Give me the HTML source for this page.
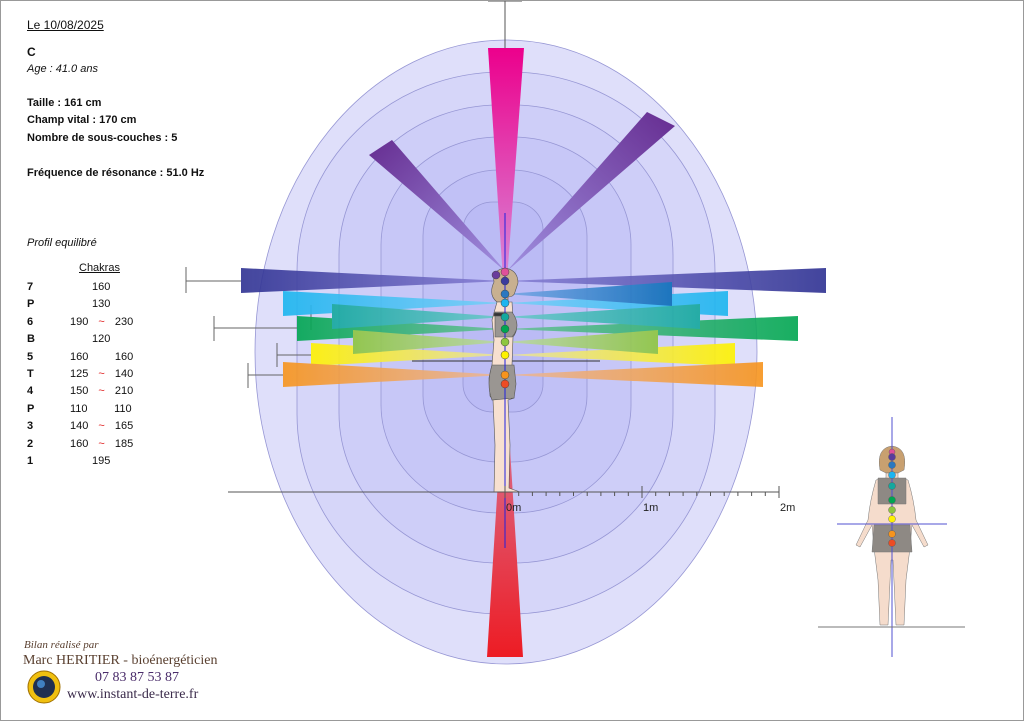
<!DOCTYPE html>
<html><head><meta charset="utf-8"><style>
html,body{margin:0;padding:0;background:#fff}
#p{position:relative;width:1022px;height:719px;border:1px solid #999;overflow:hidden;font-family:"Liberation Sans",sans-serif;color:#111}
.t{position:absolute;font-size:11px;white-space:nowrap}
.b{font-weight:bold}
.i{font-style:italic}
.s{font-family:"Liberation Serif",serif;position:absolute;white-space:nowrap}
</style></head><body><div id="p">
<svg width="1024" height="721" style="position:absolute;left:-1px;top:-1px">
<defs>
<linearGradient id="db" x1="0" x2="1"><stop offset="0" stop-color="#2e3192"/><stop offset="1" stop-color="#8a82d6"/></linearGradient>
<linearGradient id="dbr" x1="1" x2="0"><stop offset="0" stop-color="#2e3192"/><stop offset="1" stop-color="#8a82d6"/></linearGradient>
<linearGradient id="lb" x1="0" x2="1"><stop offset="0" stop-color="#1cb5f0"/><stop offset="1" stop-color="#7ccff8"/></linearGradient>
<linearGradient id="lbr" x1="1" x2="0"><stop offset="0" stop-color="#1cb5f0"/><stop offset="1" stop-color="#7ccff8"/></linearGradient>
<linearGradient id="mb" x1="1" x2="0"><stop offset="0" stop-color="#0a6cb8"/><stop offset="1" stop-color="#7aa8e6"/></linearGradient>
<linearGradient id="te" x1="0" x2="1"><stop offset="0" stop-color="#13a89e"/><stop offset="1" stop-color="#6fc8cc"/></linearGradient>
<linearGradient id="ter" x1="1" x2="0"><stop offset="0" stop-color="#13a89e"/><stop offset="1" stop-color="#6fc8cc"/></linearGradient>
<linearGradient id="gr" x1="0" x2="1"><stop offset="0" stop-color="#00a651"/><stop offset="1" stop-color="#6cc09a"/></linearGradient>
<linearGradient id="grr" x1="1" x2="0"><stop offset="0" stop-color="#00a651"/><stop offset="1" stop-color="#6cc09a"/></linearGradient>
<linearGradient id="lg" x1="0" x2="1"><stop offset="0" stop-color="#8dc63f"/><stop offset="1" stop-color="#bcd8a8"/></linearGradient>
<linearGradient id="lgr" x1="1" x2="0"><stop offset="0" stop-color="#8dc63f"/><stop offset="1" stop-color="#bcd8a8"/></linearGradient>
<linearGradient id="ye" x1="0" x2="1"><stop offset="0" stop-color="#fff200"/><stop offset="1" stop-color="#e6e0a8"/></linearGradient>
<linearGradient id="yer" x1="1" x2="0"><stop offset="0" stop-color="#fff200"/><stop offset="1" stop-color="#e6e0a8"/></linearGradient>
<linearGradient id="or" x1="0" x2="1"><stop offset="0" stop-color="#f7941d"/><stop offset="1" stop-color="#e8b8a0"/></linearGradient>
<linearGradient id="orr" x1="1" x2="0"><stop offset="0" stop-color="#f7941d"/><stop offset="1" stop-color="#e8b8a0"/></linearGradient>
<linearGradient id="pk" x1="0" y1="0" x2="0" y2="1"><stop offset="0" stop-color="#ec008c"/><stop offset="1" stop-color="#d88ad8"/></linearGradient>
<linearGradient id="rd" x1="0" y1="1" x2="0" y2="0"><stop offset="0" stop-color="#ed1c24"/><stop offset="1" stop-color="#d87898"/></linearGradient>
<linearGradient id="pu" x1="0" y1="0" x2="1" y2="1"><stop offset="0" stop-color="#662d91"/><stop offset="1" stop-color="#a090e0"/></linearGradient>
<linearGradient id="pur" x1="1" y1="0" x2="0" y2="1"><stop offset="0" stop-color="#662d91"/><stop offset="1" stop-color="#a090e0"/></linearGradient>
</defs>
<g stroke="#9696d4" stroke-width="0.8" fill="#8080f0" fill-opacity="0.09">
<ellipse cx="506" cy="352" rx="251" ry="312" fill="#dfdffa" fill-opacity="1"/>
<rect x="297" y="72" width="418" height="542" rx="205" ry="200"/>
<rect x="339" y="105" width="334" height="458" rx="160" ry="150"/>
<rect x="381" y="137" width="250" height="376" rx="118" ry="108"/>
<rect x="423" y="170" width="164" height="292" rx="76" ry="66"/>
<rect x="463" y="202" width="80" height="210" rx="30" ry="28"/>
</g>
<line x1="505" y1="0" x2="505" y2="48" stroke="#555"/><line x1="488" y1="1" x2="522" y2="1" stroke="#555"/>
<polygon points="488,48 524,48 507,280 503,280" fill="url(#pk)"/>
<polygon points="487,657 523,657 507,400 503,400" fill="url(#rd)"/>
<polygon points="369,155 392,140 506,272" fill="url(#pu)"/>
<polygon points="647,112 675,126 506,272" fill="url(#pur)"/>
<g stroke="#666" stroke-width="1">
<line x1="186" y1="281" x2="241" y2="281"/><line x1="186" y1="267" x2="186" y2="293"/>
<line x1="214" y1="328" x2="297" y2="328"/><line x1="214" y1="316" x2="214" y2="341"/>
<line x1="311" y1="305" x2="311" y2="330"/>
<line x1="277" y1="355" x2="311" y2="355"/><line x1="277" y1="343" x2="277" y2="367"/>
<line x1="248" y1="375" x2="283" y2="375"/><line x1="248" y1="363" x2="248" y2="388"/>
</g>
<g opacity="0.9">
<polygon points="241,268 241,293 505,281" fill="url(#db)"/>
<polygon points="826,268 826,293 505,281" fill="url(#dbr)"/>
<polygon points="283,291 283,316 505,303" fill="url(#lb)"/>
<polygon points="728,291 728,316 505,303" fill="url(#lbr)"/>
<polygon points="672,282 672,306 505,294" fill="url(#mb)"/>
<polygon points="297,316 297,341 505,329" fill="url(#gr)"/>
<polygon points="798,316 798,341 505,329" fill="url(#grr)"/>
<polygon points="332,304 332,329 505,317" fill="url(#te)"/>
<polygon points="700,304 700,329 505,317" fill="url(#ter)"/>
<polygon points="311,343 311,366 505,355" fill="url(#ye)"/>
<polygon points="735,343 735,366 505,355" fill="url(#yer)"/>
<polygon points="353,330 353,354 505,342" fill="url(#lg)"/>
<polygon points="658,330 658,354 505,342" fill="url(#lgr)"/>
<polygon points="283,362 283,387 505,375" fill="url(#or)"/>
<polygon points="763,362 763,387 505,375" fill="url(#orr)"/>
</g>
<line x1="412" y1="361" x2="600" y2="361" stroke="#333"/>
<g stroke="#555" stroke-width="0.6">
<path d="M494,282 Q492,270 505,268 Q518,270 518,283 L515,292 Q514,297 508,297 L508,302 L497,302 Q488,295 494,282Z" fill="#c8b090"/>
<path d="M497,302 L512,302 L513,320 Q520,328 513,337 L512,365 L514,370 L514,398 L508,400 L510,445 L509,488 L520,492 L494,492 L495,445 L493,400 L490,396 L489,378 L492,365 L494,340 L492,320Z" fill="#f7e0d0"/>
<path d="M495,312 L512,312 Q522,326 512,337 L495,337Z" fill="#9a9692"/>
<path d="M492,365 L514,365 L516,384 L514,398 L492,400 Q486,385 492,365Z" fill="#9a9692"/>
<rect x="494" y="313" width="12" height="3" fill="#333"/>
</g>
<line x1="505" y1="213" x2="505" y2="548" stroke="#2020e0" stroke-width="1"/>
<g stroke="#444" stroke-width="0.5">
<circle cx="505" cy="272" r="4" fill="#e0509a"/><circle cx="496" cy="275" r="4" fill="#6a3c9c"/>
<circle cx="505" cy="281" r="4" fill="#3b3b9e"/><circle cx="505" cy="294" r="4" fill="#2a78c0"/>
<circle cx="505" cy="303" r="4" fill="#1cb5f0"/><circle cx="505" cy="317" r="4" fill="#13a89e"/>
<circle cx="505" cy="329" r="4" fill="#00a651"/><circle cx="505" cy="342" r="4" fill="#8dc63f"/>
<circle cx="505" cy="355" r="4" fill="#fff200"/><circle cx="505" cy="375" r="4" fill="#f7941d"/>
<circle cx="505" cy="384" r="4" fill="#ed4c24"/>
</g>
<g stroke="#555" stroke-width="1">
<line x1="228" y1="492" x2="779" y2="492"/>
<line x1="505" y1="486" x2="505" y2="498"/><line x1="642" y1="486" x2="642" y2="498"/><line x1="779" y1="486" x2="779" y2="498"/>
<path d="M518.7,492v4M532.4,492v4M546.1,492v4M559.8,492v4M573.5,492v4M587.2,492v4M600.9,492v4M614.6,492v4M628.3,492v4M655.7,492v4M669.4,492v4M683.1,492v4M696.8,492v4M710.5,492v4M724.2,492v4M737.9,492v4M751.6,492v4M765.3,492v4"/>
</g>
<text x="506" y="511" font-family="Liberation Sans" font-size="11" fill="#222">0m</text>
<text x="643" y="511" font-family="Liberation Sans" font-size="11" fill="#222">1m</text>
<text x="780" y="511" font-family="Liberation Sans" font-size="11" fill="#222">2m</text>
<g stroke="#777" stroke-width="0.5">
<path d="M880,470 Q876,448 892,446 Q908,448 904,470 L898,473 L886,473Z" fill="#c8a070"/>
<path d="M886,473 L898,473 L898,478 L908,480 Q914,500 916,520 L928,545 L924,547 L912,525 L910,548 L906,580 L904,625 L896,625 L893,560 L891,560 L888,625 L880,625 L878,580 L874,548 L872,525 L860,547 L856,545 L868,520 Q870,500 876,480 L886,478Z" fill="#f5dccc"/>
<path d="M878,478 L906,478 L906,504 L878,504Z" fill="#8e8984"/>
<path d="M874,525 L910,525 L912,552 L872,552Z" fill="#8e8984"/>
</g>
<line x1="892" y1="417" x2="892" y2="657" stroke="#5050d0"/>
<line x1="837" y1="524" x2="947" y2="524" stroke="#5050d0"/>
<line x1="818" y1="627" x2="965" y2="627" stroke="#777"/>
<g stroke="#555" stroke-width="0.4">
<circle cx="892" cy="452" r="3" fill="#e0509a"/><circle cx="892" cy="457" r="3.5" fill="#5a3c9c"/>
<circle cx="892" cy="465" r="3.5" fill="#2a78c0"/><circle cx="892" cy="475" r="3.5" fill="#1cb5f0"/>
<circle cx="892" cy="486" r="3.5" fill="#13a89e"/><circle cx="892" cy="500" r="3.5" fill="#00a651"/>
<circle cx="892" cy="510" r="3.5" fill="#8dc63f"/><circle cx="892" cy="519" r="3.5" fill="#fff200"/>
<circle cx="892" cy="534" r="3.5" fill="#f7941d"/><circle cx="892" cy="543" r="3.5" fill="#ed4c24"/>
</g>
<circle cx="44" cy="687" r="16" fill="#f0c010" stroke="#a07000"/>
<circle cx="44" cy="687" r="11" fill="#203050"/>
<circle cx="41" cy="684" r="4" fill="#4080c0"/>
</svg>
<div class="t" style="left:26px;top:17px;font-size:12px;text-decoration:underline">Le 10/08/2025</div>
<div class="t b" style="left:26px;top:44px;font-size:12px">C</div>
<div class="t i" style="left:26px;top:62px">Age : 41.0 ans</div>
<div class="t b" style="left:26px;top:96px">Taille : 161 cm</div>
<div class="t b" style="left:26px;top:113px">Champ vital : 170 cm</div>
<div class="t b" style="left:26px;top:131px">Nombre de sous-couches : 5</div>
<div class="t b" style="left:26px;top:166px">Fréquence de résonance : 51.0 Hz</div>
<div class="t i" style="left:26px;top:236px">Profil equilibré</div>
<div class="t" style="left:78px;top:261px;text-decoration:underline">Chakras</div>
<div style="position:absolute;left:26px;top:278px;font-size:11px;line-height:17.4px">
<div><b style="display:inline-block;width:65px">7</b>160</div>
<div><b style="display:inline-block;width:65px">P</b>130</div>
<div><b style="display:inline-block;width:43px">6</b>190 <span style="color:#e02020;margin:0 7px">~</span> 230</div>
<div><b style="display:inline-block;width:65px">B</b>120</div>
<div><b style="display:inline-block;width:43px">5</b>160 <span style="margin:0 7px;visibility:hidden">~</span> 160</div>
<div><b style="display:inline-block;width:43px">T</b>125 <span style="color:#e02020;margin:0 7px">~</span> 140</div>
<div><b style="display:inline-block;width:43px">4</b>150 <span style="color:#e02020;margin:0 7px">~</span> 210</div>
<div><b style="display:inline-block;width:43px">P</b>110 <span style="margin:0 7px;visibility:hidden">~</span> 110</div>
<div><b style="display:inline-block;width:43px">3</b>140 <span style="color:#e02020;margin:0 7px">~</span> 165</div>
<div><b style="display:inline-block;width:43px">2</b>160 <span style="color:#e02020;margin:0 7px">~</span> 185</div>
<div><b style="display:inline-block;width:65px">1</b>195</div>
</div>
<div class="s" style="left:23px;top:638px;font-size:11px;font-style:italic;color:#5a4030">Bilan réalisé par</div>
<div class="s" style="left:22px;top:652px;font-size:14px;color:#5a4030">Marc HERITIER - bioénergéticien</div>
<div class="s" style="left:94px;top:669px;font-size:14px;color:#4a2c6a">07 83 87 53 87</div>
<div class="s" style="left:66px;top:686px;font-size:14px;color:#3a2a4a">www.instant-de-terre.fr</div>
</div></body></html>
